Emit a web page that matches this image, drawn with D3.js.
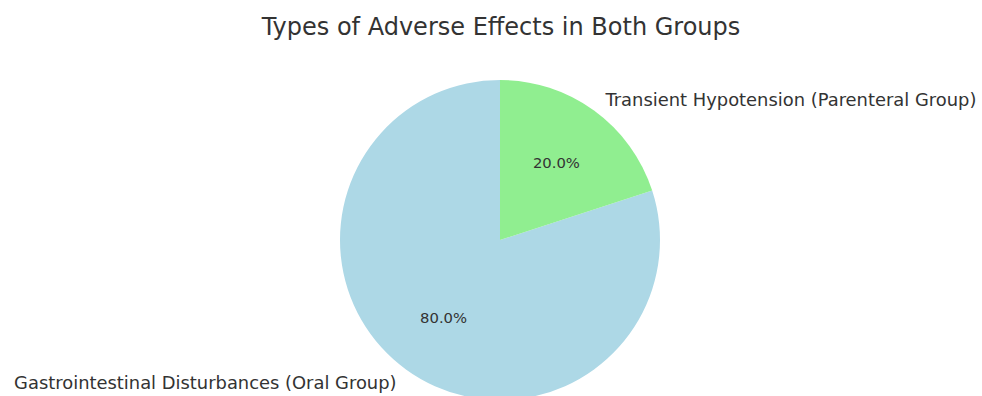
<!DOCTYPE html>
<html>
<head>
<meta charset="utf-8">
<script src="https://cdn.jsdelivr.net/npm/d3@7"></script>
<style>
  body { margin: 0; background: #fff; }
  svg text { font-family: "DejaVu Sans", sans-serif; fill: #333; }
</style>
</head>
<body>
<div id="chart"></div>
<script>
// Chart data
const categories = ["Gastrointestinal Disturbances (Oral Group)", "Transient Hypotension (Parenteral Group)"];
const values = [80, 20];
const sliceColors = ["#add8e6", "#90ee90"];
const title = "Types of Adverse Effects in Both Groups";

const width = 982;
const height = 396;
const cx = 500, cy = 240, radius = 160;

const svg = d3.select('#chart')
    .append('svg')
    .attr('width', width)
    .attr('height', height);

// Title
svg.append('text')
    .attr('x', 501)
    .attr('y', 27)
    .attr('text-anchor', 'middle')
    .attr('dominant-baseline', 'central')
    .style('font-size', '24px')
    .text(title);

// Pie: first slice goes counterclockwise from the top, like matplotlib startangle=90
const pie = d3.pie()
    .sort(null)
    .startAngle(0)
    .endAngle(-2 * Math.PI);

const arcs = pie(values);
const total = d3.sum(values);

const arc = d3.arc().innerRadius(0).outerRadius(radius);
const labelArc = d3.arc().innerRadius(radius * 1.1).outerRadius(radius * 1.1);
const pctArc = d3.arc().innerRadius(radius * 0.6).outerRadius(radius * 0.6);

const g = svg.append('g').attr('transform', `translate(${cx},${cy})`);

g.selectAll('path.slice')
    .data(arcs)
    .enter()
    .append('path')
    .attr('class', 'slice')
    .attr('d', arc)
    .attr('fill', (d, i) => sliceColors[i]);

// Percent labels
g.selectAll('text.pct')
    .data(arcs)
    .enter()
    .append('text')
    .attr('class', 'pct')
    .attr('transform', d => `translate(${pctArc.centroid(d)})`)
    .attr('text-anchor', 'middle')
    .attr('dominant-baseline', 'central')
    .style('font-size', '14.8px')
    .text(d => (d.value / total * 100).toFixed(1) + '%');

// Category labels
g.selectAll('text.label')
    .data(arcs)
    .enter()
    .append('text')
    .attr('class', 'label')
    .attr('transform', d => `translate(${labelArc.centroid(d)})`)
    .attr('dx', d => labelArc.centroid(d)[0] > 0 ? 2 : 0)
    .attr('dy', d => labelArc.centroid(d)[1] < 0 ? 2 : 0)
    .attr('text-anchor', d => labelArc.centroid(d)[0] > 0 ? 'start' : 'end')
    .attr('dominant-baseline', 'central')
    .style('font-size', '17.9px')
    .text((d, i) => categories[i]);
</script>
</body>
</html>
